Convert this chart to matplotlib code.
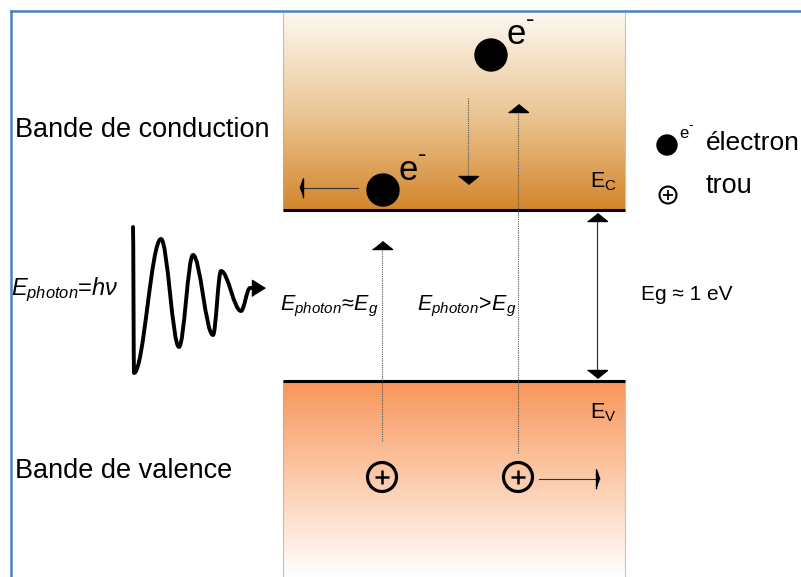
import matplotlib
matplotlib.use('Agg')
import matplotlib.pyplot as plt
import numpy as np
from matplotlib.patches import Circle, PathPatch
from matplotlib.path import Path
from matplotlib.colors import LinearSegmentedColormap

plt.rcParams['font.family'] = ['Liberation Sans', 'DejaVu Sans']
plt.rcParams['mathtext.fontset'] = 'custom'
plt.rcParams['mathtext.rm'] = 'Liberation Sans'
plt.rcParams['mathtext.it'] = 'Liberation Sans:italic'

# bandes (coordonnees en pixels)
band_x = [283, 625]
cond_y = [13, 209.5]      # haut, E_C
val_y = [381, 577]        # E_V, bas

electrons_x = [491, 383]
electrons_y = [55, 190]
holes_x = [382, 518]
holes_y = [477, 477]

# extremums de l'onde du photon
wave_x = [133, 134, 161, 179, 193, 213, 221, 241, 250]
wave_y = [227, 373, 239, 347, 255, 335, 271, 311, 288]

fig = plt.figure(figsize=(8.01, 5.77), dpi=100)
ax = fig.add_axes([0, 0, 1, 1])
ax.set_axis_off()

# degrades des bandes
grad = np.linspace(0, 1, 256).reshape(-1, 1)
cmap_c = LinearSegmentedColormap.from_list('c', ['#fdf8f2', '#ecc898', '#d4862c'])
cmap_v = LinearSegmentedColormap.from_list('v', ['#f8965a', '#fccbac', '#ffffff'])
ax.imshow(grad, extent=[band_x[0], band_x[1], cond_y[1], cond_y[0]], cmap=cmap_c, aspect='auto')
ax.imshow(grad, extent=[band_x[0], band_x[1], val_y[1], val_y[0]], cmap=cmap_v, aspect='auto')
for x in band_x:
    ax.plot([x, x], cond_y, color='#b8a898', lw=0.8, alpha=0.7)
    ax.plot([x, x], val_y, color='#b8a898', lw=0.8, alpha=0.7)
ax.plot(band_x, [cond_y[1]] * 2, color='black', lw=2.2, solid_capstyle='butt')
ax.plot(band_x, [val_y[0]] * 2, color='black', lw=2.2, solid_capstyle='butt')

# cadre bleu
ax.plot([11, 11], [577, 11], color='#4f81bd', lw=1.8, solid_capstyle='projecting')
ax.plot([11, 801], [11, 11], color='#4f81bd', lw=1.8, solid_capstyle='projecting')

# pointes de fleches
up = [(-1, 0), (1, 0), (0, 0.8)]
down = [(-1, 0), (1, 0), (0, -0.8)]
right_big = [(0, -1), (0, 1), (1.6, 0)]
thin_left = [(0, -1), (0, 1), (-0.35, 0)]
thin_right = [(0, -1), (0, 1), (0.35, 0)]

dot = dict(color='#555555', lw=0.8, linestyle=(0, (1, 1)))
# transitions photon
ax.plot([382, 382], [441, 249], **dot)
ax.plot(382, 249, marker=up, ms=14.4, color='black')
ax.plot([518, 518], [453, 112], **dot)
ax.plot(518, 112, marker=up, ms=14.4, color='black')
# relaxation
ax.plot([468, 468], [98, 176], **dot)
ax.plot(468, 176, marker=down, ms=14.4, color='black')
# gap
ax.plot([597, 597], [221, 370], color='#333333', lw=0.9)
ax.plot(597, 221, marker=up, ms=14.4, color='black')
ax.plot(597, 370, marker=down, ms=14.4, color='black')

# deplacements horizontaux
ax.plot([358, 303], [188, 188], color='#333333', lw=0.8)
ax.plot(303, 188, marker=thin_left, ms=14, color='black')
ax.plot([539, 596], [479, 479], color='#333333', lw=0.8)
ax.plot(596, 479, marker=thin_right, ms=14, color='black')

# electrons
for x, y in zip(electrons_x, electrons_y):
    ax.add_patch(Circle((x, y), 16, color='black', zorder=3))
    ax.text(x + 25, y - 20, 'e', fontsize=25, ha='center', va='center')
    ax.text(x + 39, y - 35, '-', fontsize=18, ha='center', va='center')

# trous
for x, y in zip(holes_x, holes_y):
    ax.add_patch(Circle((x, y), 14.5, fill=False, ec='black', lw=2.3, zorder=3))
    ax.plot(x, y, marker='+', ms=10, mew=1.8, color='black')

# onde du photon (courbes de Bezier entre extremums)
verts = [(wave_x[0], wave_y[0])]
codes = [Path.MOVETO]
k = 0.36
for i in range(1, len(wave_x)):
    x0, y0, x1, y1 = wave_x[i - 1], wave_y[i - 1], wave_x[i], wave_y[i]
    dx = x1 - x0
    verts += [(x0 + k * dx, y0), (x1 - k * dx, y1), (x1, y1)]
    codes += [Path.CURVE4] * 3
verts.append((256, wave_y[-1]))
codes.append(Path.LINETO)
ax.add_patch(PathPatch(Path(verts, codes), fill=False, lw=2.8, ec='black', capstyle='round', joinstyle='round'))
ax.plot(252, wave_y[-1], marker=right_big, ms=18.6, color='black')

# textes
ax.text(15, 130, 'Bande de conduction', fontsize=19.5, va='center')
ax.text(15, 471, 'Bande de valence', fontsize=19.5, va='center')
ax.text(11, 290, r'$E_{photon}$=$h\nu$', fontsize=17, va='center')
ax.text(280, 306, r'$E_{photon}\!\approx\!E_g$', fontsize=15.5, va='center')
ax.text(417, 306, r'$E_{photon}\!>\!E_g$', fontsize=15.5, va='center')
ax.text(641, 295, 'Eg ≈ 1 eV', fontsize=15, va='center')
ax.text(590, 187, r'$\mathrm{E_C}$', fontsize=15.5, va='baseline')
ax.text(590, 418, r'$\mathrm{E_V}$', fontsize=15.5, va='baseline')

# legende
ax.add_patch(Circle((667, 145), 10, color='black'))
ax.text(684, 133, 'e', fontsize=12, ha='center', va='center')
ax.text(691, 125, '-', fontsize=10, ha='center', va='center')
ax.text(706, 143, 'électron', fontsize=19, va='center')
ax.add_patch(Circle((668, 195), 8.5, fill=False, ec='black', lw=1.5))
ax.plot(668, 195, marker='+', ms=7, mew=1.3, color='black')
ax.text(706, 186, 'trou', fontsize=19.5, va='center')

ax.set_xlim(0, 801)
ax.set_ylim(577, 0)

fig.savefig('out.png', dpi=100)
